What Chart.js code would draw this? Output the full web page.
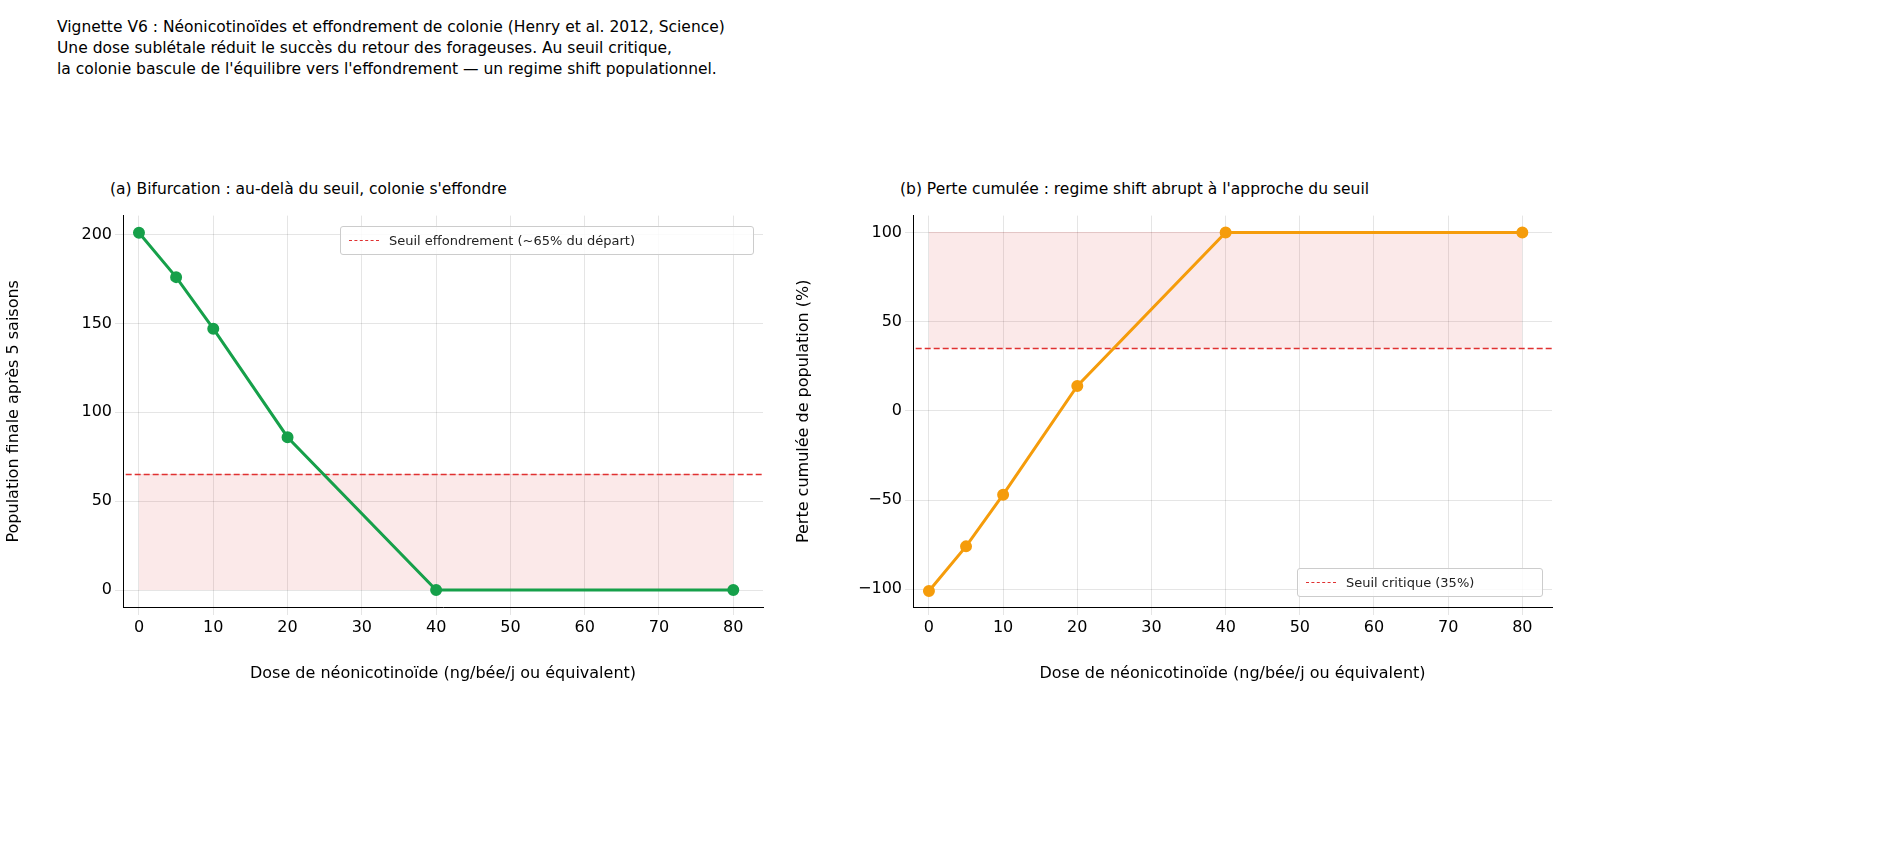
<!DOCTYPE html>
<html><head><meta charset="utf-8">
<script src="https://cdn.jsdelivr.net/npm/chart.js@4"></script>
<style>
body{margin:0;background:#fff;width:1900px;height:845px;position:relative;font-family:"DejaVu Sans",sans-serif;overflow:hidden}
#t{position:absolute;left:57px;top:17px;font-size:15.5px;line-height:21px;color:#000}
.c{position:absolute;top:203px;height:484px}
.st{position:absolute;top:180px;font-size:15.5px;color:#000;white-space:nowrap}
.lg{position:absolute;background:rgba(255,255,255,0.85);border:1px solid #ccc;border-radius:3px;font-size:13px;color:#222;display:flex;align-items:center;padding:0 8px;height:27px;white-space:nowrap}
.lg span.l{display:inline-block;width:30px;border-top:1.5px dashed #e03131;margin-right:10px}
</style></head><body>
<div id="t">Vignette V6 : Néonicotinoïdes et effondrement de colonie (Henry et al. 2012, Science)<br>Une dose sublétale réduit le succès du retour des forageuses. Au seuil critique,<br>la colonie bascule de l'équilibre vers l'effondrement — un regime shift populationnel.</div>
<div class="st" style="left:110px">(a) Bifurcation : au-delà du seuil, colonie s'effondre</div>
<div class="st" style="left:900px">(b) Perte cumulée : regime shift abrupt à l'approche du seuil</div>
<div class="c" style="left:0;width:780px"><canvas id="a"></canvas></div>
<div class="c" style="left:790px;width:779px"><canvas id="b"></canvas></div>
<div class="lg" style="left:340px;top:226px;width:396px"><span class="l"></span>Seuil effondrement (~65% du départ)</div>
<div class="lg" style="left:1297px;top:568px;width:228px"><span class="l"></span>Seuil critique (35%)</div>
<script>
const doses=[0,5,10,20,40,80];
const popFinale=[201,176,147,86,0,0];
const perte=[-101,-76,-47,14,100,100];
const seuilA=65, seuilB=35;
const xTicks=[0,10,20,30,40,50,60,70,80];
const F="DejaVu Sans";
function mk(id,vals,color,seuil,band,yMin,yMax,yStep,yTitle){
 const pts=doses.map((d,i)=>({x:d,y:vals[i]}));
 new Chart(document.getElementById(id),{type:'line',
 data:{datasets:[
  {data:pts,borderColor:color,backgroundColor:color,borderWidth:3,pointRadius:4.5,pointHoverRadius:4.5,order:1},
  {data:[{x:-3,y:seuil},{x:85,y:seuil}],borderColor:'#e03131',borderWidth:1.5,borderDash:[6,3],pointRadius:0,order:2},
  {data:[{x:0,y:band[1]},{x:80,y:band[1]}],borderColor:'rgba(214,39,40,0.12)',borderWidth:1,pointRadius:0,fill:{value:band[0]},backgroundColor:'rgba(214,39,40,0.1)',order:3}
 ]},
 options:{responsive:true,maintainAspectRatio:false,animation:false,
  layout:{padding:{left:0,right:17,top:10,bottom:0}},
  plugins:{legend:{display:false},tooltip:{enabled:false}},
  scales:{x:{type:'linear',min:-2.15,max:84,afterBuildTicks:a=>{a.ticks=xTicks.map(v=>({value:v}))},
    afterFit:s=>{s.height=80},
    ticks:{font:{family:F,size:16},color:'#000'},grid:{color:'rgba(0,0,0,0.1)'},border:{color:'#000'},
    title:{display:true,text:"Dose de néonicotinoïde (ng/bée/j ou équivalent)",font:{family:F,size:16},color:'#000'}},
   y:{min:yMin,max:yMax,afterBuildTicks:a=>{const t=[];for(let v=Math.ceil(yMin/yStep)*yStep;v<=yMax;v+=yStep)t.push({value:v});a.ticks=t},
    afterFit:s=>{s.width=123},
    ticks:{font:{family:F,size:16},color:'#000',callback:v=>String(v).replace('-','−')},grid:{color:'rgba(0,0,0,0.1)'},border:{color:'#000'},
    title:{display:true,text:yTitle,font:{family:F,size:16},color:'#000'}}}}});
}
mk('a',popFinale,'#16a04a',seuilA,[0,65],-9.5,210.6,50,"Population finale après 5 saisons");
mk('b',perte,'#f59c0b',seuilB,[35,100],-110,109.5,50,"Perte cumulée de population (%)");
</script></body></html>
